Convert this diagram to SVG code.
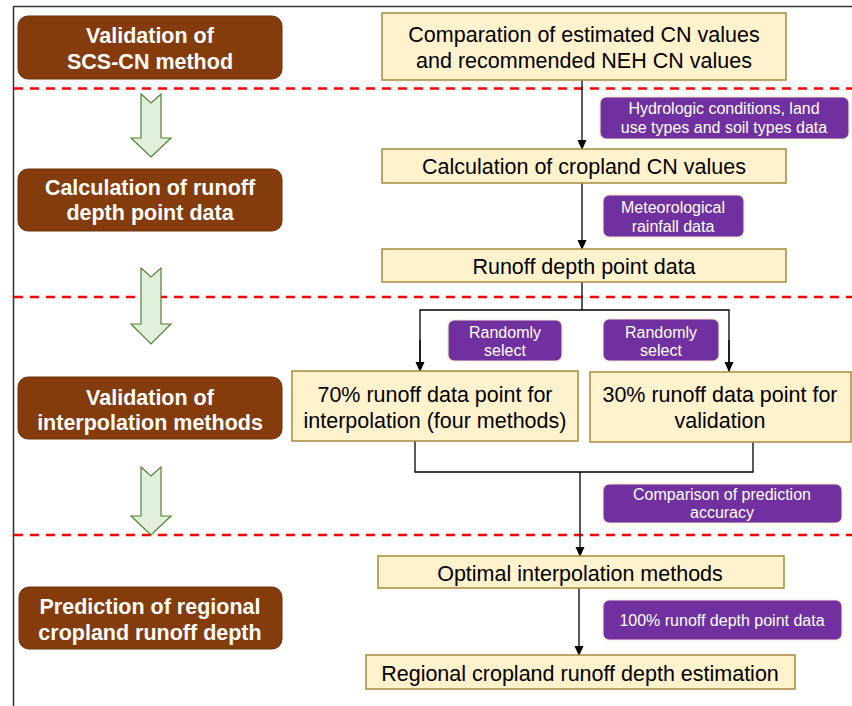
<svg xmlns="http://www.w3.org/2000/svg" width="852" height="706" viewBox="0 0 852 706">
<defs>
<style>
.brown{fill:#843C0C;stroke:#6b300a;stroke-width:1}
.bt{font-family:"Liberation Sans",Arial,sans-serif;font-weight:bold;font-size:21.5px;fill:#ffffff;text-anchor:middle}
.yel{fill:#FFF2CC;stroke:#A68A3C;stroke-width:1.5}
.yt{font-family:"Liberation Sans",Arial,sans-serif;font-size:21.5px;fill:#000000;text-anchor:middle}
.pur{fill:#7030A0;stroke:#F3E3C8;stroke-width:1.2}
.pt{font-family:"Liberation Sans",Arial,sans-serif;font-size:16px;fill:#ffffff;text-anchor:middle}
.dash{stroke:#FF0000;stroke-width:2.5;stroke-dasharray:9 7;fill:none}
.garrow{fill:#E2EFDA;stroke:#548235;stroke-width:1.2}
.conn{stroke:#000000;stroke-width:1.3;fill:none}
</style>
<marker id="ah" markerWidth="10" markerHeight="10" refX="9" refY="5" orient="auto" markerUnits="userSpaceOnUse">
<path d="M0,0.5 L10,5 L0,9.5 Z" fill="#000000"/>
</marker>
</defs>
<rect width="852" height="706" fill="#ffffff"/>
<path d="M13.5,706 L13.5,6.5 L852,6.5" fill="none" stroke="#333333" stroke-width="1.5"/>

<g id="separators">
<line class="dash" x1="14" y1="88.5" x2="852" y2="88.5"/>
<line class="dash" x1="14" y1="297" x2="852" y2="297"/>
<line class="dash" x1="14" y1="535" x2="852" y2="535"/>
</g>

<g id="stage-arrows">
<path class="garrow" d="M141,94 L151,103 L161,94 L161,138 L171,138 L151,157 L131,138 L141,138 Z"/>
<path class="garrow" d="M141,268 L151,277 L161,268 L161,324 L171,324 L151,344 L131,324 L141,324 Z"/>
<path class="garrow" d="M141,467 L151,476 L161,467 L161,516 L171,516 L151,535 L131,516 L141,516 Z"/>
</g>

<g id="stage1">
<rect class="brown" x="18" y="16" width="264" height="63" rx="10"/>
<text class="bt" x="150" y="43">Validation of</text>
<text class="bt" x="150" y="69">SCS-CN method</text>
</g>
<g id="stage2">
<rect class="brown" x="18" y="169" width="264" height="62" rx="10"/>
<text class="bt" x="150" y="195">Calculation of runoff</text>
<text class="bt" x="150" y="220">depth point data</text>
</g>
<g id="stage3">
<rect class="brown" x="18" y="377" width="264" height="62" rx="10"/>
<text class="bt" x="150" y="405">Validation of</text>
<text class="bt" x="150" y="430">interpolation methods</text>
</g>
<g id="stage4">
<rect class="brown" x="19" y="587" width="263" height="62" rx="10"/>
<text class="bt" x="150" y="614">Prediction of regional</text>
<text class="bt" x="150" y="640">cropland runoff depth</text>
</g>

<g id="connectors">
<line class="conn" x1="582" y1="80" x2="582" y2="149" marker-end="url(#ah)"/>
<line class="conn" x1="582" y1="183" x2="582" y2="249" marker-end="url(#ah)"/>
<polyline class="conn" points="582,282 582,310"/>
<polyline class="conn" points="420,371 420,310 729,310 729,371"/>
<line class="conn" x1="420" y1="340" x2="420" y2="371" marker-end="url(#ah)"/>
<line class="conn" x1="729" y1="340" x2="729" y2="371" marker-end="url(#ah)"/>
<polyline class="conn" points="415,441 415,472 753,472 753,442"/>
<line class="conn" x1="580" y1="472" x2="580" y2="556" marker-end="url(#ah)"/>
<line class="conn" x1="579" y1="588" x2="579" y2="655" marker-end="url(#ah)"/>
</g>

<g id="n-comparation">
<rect class="yel" x="382" y="13" width="404" height="67"/>
<text class="yt" x="584" y="42">Comparation of estimated CN values</text>
<text class="yt" x="584" y="68">and recommended NEH CN values</text>
</g>
<g id="l-hydrologic">
<rect class="pur" x="600" y="97" width="249" height="42" rx="6"/>
<text class="pt" x="724" y="114">Hydrologic conditions, land</text>
<text class="pt" x="724" y="133">use types and soil types data</text>
</g>
<g id="n-cropland-cn">
<rect class="yel" x="382" y="149" width="404" height="34"/>
<text class="yt" x="584" y="174">Calculation of cropland CN values</text>
</g>
<g id="l-meteorological">
<rect class="pur" x="603" y="195" width="141" height="42" rx="6"/>
<text class="pt" x="673" y="213">Meteorological</text>
<text class="pt" x="673" y="232">rainfall data</text>
</g>
<g id="n-runoff-depth">
<rect class="yel" x="382" y="249" width="404" height="33"/>
<text class="yt" x="584" y="274">Runoff depth point data</text>
</g>
<g id="l-random1">
<rect class="pur" x="448" y="320" width="114" height="41" rx="6"/>
<text class="pt" x="505" y="338">Randomly</text>
<text class="pt" x="505" y="356">select</text>
</g>
<g id="l-random2">
<rect class="pur" x="603" y="319" width="116" height="42" rx="6"/>
<text class="pt" x="661" y="338">Randomly</text>
<text class="pt" x="661" y="356">select</text>
</g>
<g id="n-70">
<rect class="yel" x="292" y="371" width="286" height="70"/>
<text class="yt" x="435" y="402">70% runoff  data point for</text>
<text class="yt" x="435" y="428">interpolation (four methods)</text>
</g>
<g id="n-30">
<rect class="yel" x="590" y="372" width="261" height="70"/>
<text class="yt" x="720" y="402">30% runoff  data point for</text>
<text class="yt" x="720" y="428">validation</text>
</g>
<g id="l-comparison">
<rect class="pur" x="603" y="484" width="239" height="39" rx="6"/>
<text class="pt" x="722" y="500">Comparison of prediction</text>
<text class="pt" x="722" y="518">accuracy</text>
</g>
<g id="n-optimal">
<rect class="yel" x="378" y="556" width="406" height="32"/>
<text class="yt" x="580" y="581">Optimal interpolation methods</text>
</g>
<g id="l-100">
<rect class="pur" x="603" y="600" width="239" height="40" rx="6"/>
<text class="pt" x="722" y="626">100% runoff depth point data</text>
</g>
<g id="n-regional">
<rect class="yel" x="366" y="655" width="429" height="34"/>
<text class="yt" x="580" y="681">Regional cropland runoff  depth estimation</text>
</g>
</svg>
